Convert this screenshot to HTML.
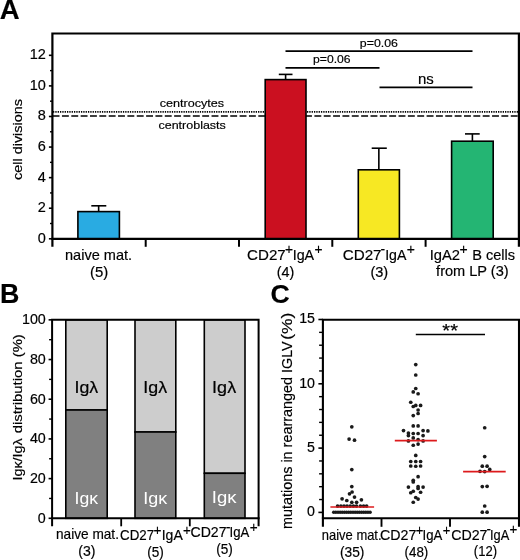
<!DOCTYPE html>
<html lang="en"><head><meta charset="utf-8"><title>Figure</title>
<style>html,body{margin:0;padding:0;background:#fff;}svg{display:block;will-change:transform;}text{font-family:'Liberation Sans', sans-serif;stroke:#000;stroke-width:0.18px;}text.w{stroke:none;}</style>
</head><body>
<svg width="520" height="560" viewBox="0 0 520 560">
<rect x="0" y="0" width="520" height="560" fill="#fff"/>
<text x="-0.3" y="18.5" font-size="27.5" font-weight="bold">A</text>
<g id="panelA">
<line x1="48.90" y1="238.80" x2="52.40" y2="238.80" stroke="#000" stroke-width="1.6" />
<text x="45.9" y="242.7" font-size="14.5" text-anchor="end">0</text>
<line x1="50.00" y1="223.51" x2="52.40" y2="223.51" stroke="#000" stroke-width="1.4" />
<line x1="48.90" y1="208.22" x2="52.40" y2="208.22" stroke="#000" stroke-width="1.6" />
<text x="45.9" y="212.12" font-size="14.5" text-anchor="end">2</text>
<line x1="50.00" y1="192.93" x2="52.40" y2="192.93" stroke="#000" stroke-width="1.4" />
<line x1="48.90" y1="177.64" x2="52.40" y2="177.64" stroke="#000" stroke-width="1.6" />
<text x="45.9" y="181.54" font-size="14.5" text-anchor="end">4</text>
<line x1="50.00" y1="162.35" x2="52.40" y2="162.35" stroke="#000" stroke-width="1.4" />
<line x1="48.90" y1="147.06" x2="52.40" y2="147.06" stroke="#000" stroke-width="1.6" />
<text x="45.9" y="150.96" font-size="14.5" text-anchor="end">6</text>
<line x1="50.00" y1="131.77" x2="52.40" y2="131.77" stroke="#000" stroke-width="1.4" />
<line x1="48.90" y1="116.48" x2="52.40" y2="116.48" stroke="#000" stroke-width="1.6" />
<text x="45.9" y="120.38" font-size="14.5" text-anchor="end">8</text>
<line x1="50.00" y1="101.19" x2="52.40" y2="101.19" stroke="#000" stroke-width="1.4" />
<line x1="48.90" y1="85.90" x2="52.40" y2="85.90" stroke="#000" stroke-width="1.6" />
<text x="45.9" y="89.8" font-size="14.5" text-anchor="end">10</text>
<line x1="50.00" y1="70.61" x2="52.40" y2="70.61" stroke="#000" stroke-width="1.4" />
<line x1="48.90" y1="55.32" x2="52.40" y2="55.32" stroke="#000" stroke-width="1.6" />
<text x="45.9" y="59.22" font-size="14.5" text-anchor="end">12</text>
<text x="22.4" y="180.01" font-size="13.5" textLength="81.03" lengthAdjust="spacingAndGlyphs" transform="rotate(-90 22.4 180.01)">cell divisions</text>
<line x1="53.00" y1="111.80" x2="518.90" y2="111.80" stroke="#000" stroke-width="1.7" stroke-dasharray="1.3 1.03"/>
<line x1="52.60" y1="116.00" x2="518.90" y2="116.00" stroke="#000" stroke-width="1.7" stroke-dasharray="6.9 2.45"/>
<text x="159.67" y="107.1" font-size="11.4" textLength="64.39" lengthAdjust="spacingAndGlyphs">centrocytes</text>
<text x="158.47" y="129.4" font-size="11.4" textLength="67.38" lengthAdjust="spacingAndGlyphs">centroblasts</text>
<line x1="98.65" y1="211.60" x2="98.65" y2="205.80" stroke="#000" stroke-width="1.6" />
<line x1="91.30" y1="205.80" x2="106.30" y2="205.80" stroke="#000" stroke-width="1.6" />
<rect x="77.90" y="211.60" width="41.50" height="27.20" fill="#29ABE2" stroke="#000" stroke-width="1.6"/>
<line x1="285.60" y1="79.60" x2="285.60" y2="74.40" stroke="#000" stroke-width="1.6" />
<line x1="278.80" y1="74.40" x2="292.50" y2="74.40" stroke="#000" stroke-width="1.6" />
<rect x="265.20" y="79.60" width="40.80" height="159.20" fill="#CB1020" stroke="#000" stroke-width="1.6"/>
<line x1="378.85" y1="169.80" x2="378.85" y2="148.20" stroke="#000" stroke-width="1.6" />
<line x1="371.70" y1="148.20" x2="386.80" y2="148.20" stroke="#000" stroke-width="1.6" />
<rect x="358.30" y="169.80" width="41.10" height="69.00" fill="#F7E823" stroke="#000" stroke-width="1.6"/>
<line x1="472.40" y1="141.20" x2="472.40" y2="133.90" stroke="#000" stroke-width="1.6" />
<line x1="465.00" y1="133.90" x2="479.70" y2="133.90" stroke="#000" stroke-width="1.6" />
<rect x="451.60" y="141.20" width="41.60" height="97.60" fill="#24B573" stroke="#000" stroke-width="1.6"/>
<path d="M52.4 246.8 V33.5 H518.9 V246.8" fill="none" stroke="#000" stroke-width="2.2"/>
<line x1="51.30" y1="238.80" x2="520.00" y2="238.80" stroke="#000" stroke-width="2.2" />
<line x1="145.70" y1="238.80" x2="145.70" y2="246.80" stroke="#000" stroke-width="2" />
<line x1="239.00" y1="238.80" x2="239.00" y2="246.80" stroke="#000" stroke-width="2" />
<line x1="332.30" y1="238.80" x2="332.30" y2="246.80" stroke="#000" stroke-width="2" />
<line x1="425.60" y1="238.80" x2="425.60" y2="246.80" stroke="#000" stroke-width="2" />
<line x1="285.50" y1="51.00" x2="472.50" y2="51.00" stroke="#000" stroke-width="1.75" />
<line x1="285.50" y1="67.90" x2="379.50" y2="67.90" stroke="#000" stroke-width="1.75" />
<line x1="379.50" y1="87.40" x2="472.50" y2="87.40" stroke="#000" stroke-width="1.75" />
<text x="359.8" y="46.6" font-size="11.8" textLength="38.14" lengthAdjust="spacingAndGlyphs">p=0.06</text>
<text x="313.12" y="63.3" font-size="11.8" textLength="37.52" lengthAdjust="spacingAndGlyphs">p=0.06</text>
<text x="417.9" y="83.5" font-size="14.2" textLength="15.84" lengthAdjust="spacingAndGlyphs">ns</text>
<text x="65.03" y="260.1" font-size="14.4" textLength="67.09" lengthAdjust="spacingAndGlyphs">naive mat.</text>
<text x="90.07" y="277.0" font-size="14.4" textLength="18.25" lengthAdjust="spacingAndGlyphs">(5)</text>
<text y="259.6" font-size="14.8"><tspan x="247.13" textLength="38.63" lengthAdjust="spacingAndGlyphs">CD27</tspan><tspan x="284.93" dy="-5.2" textLength="8.05" lengthAdjust="spacingAndGlyphs">+</tspan><tspan x="292.68" dy="5.2" textLength="21.45" lengthAdjust="spacingAndGlyphs">IgA</tspan><tspan x="314.43" dy="-5.2" textLength="8.05" lengthAdjust="spacingAndGlyphs">+</tspan></text>
<text x="276.81" y="277.4" font-size="14.4" textLength="17.58" lengthAdjust="spacingAndGlyphs">(4)</text>
<text y="259.6" font-size="14.8"><tspan x="342.73" textLength="38.84" lengthAdjust="spacingAndGlyphs">CD27</tspan><tspan x="380.58" dy="-5.2" textLength="4.64" lengthAdjust="spacingAndGlyphs">-</tspan><tspan x="385.19" dy="5.2" textLength="21.23" lengthAdjust="spacingAndGlyphs">IgA</tspan><tspan x="406.72" dy="-5.2" textLength="8.17" lengthAdjust="spacingAndGlyphs">+</tspan></text>
<text x="370.4" y="277.1" font-size="14.4" textLength="17.81" lengthAdjust="spacingAndGlyphs">(3)</text>
<text y="259.6" font-size="14.8"><tspan x="429.64" textLength="30.3" lengthAdjust="spacingAndGlyphs">IgA2</tspan><tspan x="459.42" dy="-5.2" textLength="8.17" lengthAdjust="spacingAndGlyphs">+</tspan> <tspan x="472.21" dy="5.2" textLength="42.82" lengthAdjust="spacingAndGlyphs">B cells</tspan></text>
<text x="436.09" y="276.4" font-size="14.4" textLength="72.61" lengthAdjust="spacingAndGlyphs">from LP (3)</text>
</g>
<text x="0.0" y="303.0" font-size="26.8" font-weight="bold">B</text>
<g id="panelB">
<rect x="65.80" y="319.85" width="41.40" height="90.15" fill="#CDCDCD" stroke="#000" stroke-width="1.6"/>
<rect x="65.80" y="410.00" width="41.40" height="108.30" fill="#808080" stroke="#000" stroke-width="1.6"/>
<rect x="135.00" y="319.85" width="40.80" height="112.15" fill="#CDCDCD" stroke="#000" stroke-width="1.6"/>
<rect x="135.00" y="432.00" width="40.80" height="86.30" fill="#808080" stroke="#000" stroke-width="1.6"/>
<rect x="204.30" y="319.85" width="40.70" height="153.45" fill="#CDCDCD" stroke="#000" stroke-width="1.6"/>
<rect x="204.30" y="473.30" width="40.70" height="45.00" fill="#808080" stroke="#000" stroke-width="1.6"/>
<path d="M52.1 526.3 V319.85 H258.6 V526.3" fill="none" stroke="#000" stroke-width="2"/>
<line x1="51.10" y1="518.30" x2="259.60" y2="518.30" stroke="#000" stroke-width="2" />
<line x1="121.20" y1="518.30" x2="121.20" y2="526.30" stroke="#000" stroke-width="1.8" />
<line x1="189.80" y1="518.30" x2="189.80" y2="526.30" stroke="#000" stroke-width="1.8" />
<line x1="48.60" y1="518.30" x2="52.10" y2="518.30" stroke="#000" stroke-width="1.6" />
<text x="45.8" y="522.6" font-size="14.3" text-anchor="end">0</text>
<line x1="49.10" y1="498.45" x2="52.10" y2="498.45" stroke="#000" stroke-width="1.4" />
<line x1="48.60" y1="478.61" x2="52.10" y2="478.61" stroke="#000" stroke-width="1.6" />
<text x="45.8" y="482.91" font-size="14.3" text-anchor="end">20</text>
<line x1="49.10" y1="458.76" x2="52.10" y2="458.76" stroke="#000" stroke-width="1.4" />
<line x1="48.60" y1="438.92" x2="52.10" y2="438.92" stroke="#000" stroke-width="1.6" />
<text x="45.8" y="443.22" font-size="14.3" text-anchor="end">40</text>
<line x1="49.10" y1="419.07" x2="52.10" y2="419.07" stroke="#000" stroke-width="1.4" />
<line x1="48.60" y1="399.23" x2="52.10" y2="399.23" stroke="#000" stroke-width="1.6" />
<text x="45.8" y="403.53" font-size="14.3" text-anchor="end">60</text>
<line x1="49.10" y1="379.38" x2="52.10" y2="379.38" stroke="#000" stroke-width="1.4" />
<line x1="48.60" y1="359.54" x2="52.10" y2="359.54" stroke="#000" stroke-width="1.6" />
<text x="45.8" y="363.84" font-size="14.3" text-anchor="end">80</text>
<line x1="49.10" y1="339.69" x2="52.10" y2="339.69" stroke="#000" stroke-width="1.4" />
<line x1="48.60" y1="319.85" x2="52.10" y2="319.85" stroke="#000" stroke-width="1.6" />
<text x="45.8" y="324.15" font-size="14.3" text-anchor="end">100</text>
<text x="22.0" y="480.42" font-size="13.3" textLength="42.04" lengthAdjust="spacingAndGlyphs" transform="rotate(-90 22.0 480.42)">Igκ/Igλ</text>
<text x="22.0" y="433.32" font-size="13.3" textLength="99.15" lengthAdjust="spacingAndGlyphs" transform="rotate(-90 22.0 433.32)">distribution (%)</text>
<text x="74.56" y="392.7" font-size="15.8" textLength="23.7" lengthAdjust="spacingAndGlyphs">Igλ</text>
<text x="143.35" y="392.7" font-size="15.8" textLength="23.8" lengthAdjust="spacingAndGlyphs">Igλ</text>
<text x="212.14" y="392.7" font-size="15.8" textLength="24.02" lengthAdjust="spacingAndGlyphs">Igλ</text>
<text x="74.57" y="504.0" font-size="15.8" textLength="23.5" lengthAdjust="spacingAndGlyphs" fill="#fff" class="w">Igκ</text>
<text x="143.34" y="504.0" font-size="15.8" textLength="23.93" lengthAdjust="spacingAndGlyphs" fill="#fff" class="w">Igκ</text>
<text x="211.89" y="502.7" font-size="15.8" textLength="24.68" lengthAdjust="spacingAndGlyphs" fill="#fff" class="w">Igκ</text>
<text x="55.99" y="539.4" font-size="14.4" textLength="62.95" lengthAdjust="spacingAndGlyphs">naive mat.</text>
<text x="78.33" y="556.4" font-size="14.4" textLength="17.14" lengthAdjust="spacingAndGlyphs">(3)</text>
<text y="540.0" font-size="14.6"><tspan x="120.12" textLength="34.05" lengthAdjust="spacingAndGlyphs">CD27</tspan><tspan x="153.54" dy="-5.3" textLength="7.93" lengthAdjust="spacingAndGlyphs">+</tspan><tspan x="161.71" dy="5.3" textLength="21.02" lengthAdjust="spacingAndGlyphs">IgA</tspan><tspan x="183.05" dy="-5.3" textLength="7.81" lengthAdjust="spacingAndGlyphs">+</tspan></text>
<text x="147.26" y="557.2" font-size="14.4" textLength="16.58" lengthAdjust="spacingAndGlyphs">(5)</text>
<text y="537.0" font-size="14.6"><tspan x="190.48" textLength="36.02" lengthAdjust="spacingAndGlyphs">CD27</tspan><tspan x="225.76" dy="-5.1" textLength="4.77" lengthAdjust="spacingAndGlyphs">-</tspan><tspan x="229.59" dy="5.1" textLength="19.74" lengthAdjust="spacingAndGlyphs">IgA</tspan><tspan x="249.74" dy="-5.1" textLength="7.93" lengthAdjust="spacingAndGlyphs">+</tspan></text>
<text x="216.16" y="554.4" font-size="14.4" textLength="16.58" lengthAdjust="spacingAndGlyphs">(5)</text>
</g>
<text x="270.5" y="303.0" font-size="26.6" font-weight="bold">C</text>
<g id="panelC">
<path d="M322.9 526.8 V319.7 H519.0 V526.8" fill="none" stroke="#000" stroke-width="2.1"/>
<line x1="321.90" y1="518.30" x2="520.00" y2="518.30" stroke="#000" stroke-width="2.1" />
<line x1="381.50" y1="518.30" x2="381.50" y2="526.80" stroke="#000" stroke-width="1.9" />
<line x1="450.00" y1="518.30" x2="450.00" y2="526.80" stroke="#000" stroke-width="1.9" />
<line x1="318.40" y1="512.40" x2="322.90" y2="512.40" stroke="#000" stroke-width="1.6" />
<text x="315.0" y="516.3" font-size="14.2" text-anchor="end">0</text>
<line x1="319.10" y1="499.54" x2="322.90" y2="499.54" stroke="#000" stroke-width="1.4" />
<line x1="319.10" y1="486.68" x2="322.90" y2="486.68" stroke="#000" stroke-width="1.4" />
<line x1="319.10" y1="473.82" x2="322.90" y2="473.82" stroke="#000" stroke-width="1.4" />
<line x1="319.10" y1="460.96" x2="322.90" y2="460.96" stroke="#000" stroke-width="1.4" />
<line x1="318.40" y1="448.10" x2="322.90" y2="448.10" stroke="#000" stroke-width="1.6" />
<text x="315.0" y="452.0" font-size="14.2" text-anchor="end">5</text>
<line x1="319.10" y1="435.24" x2="322.90" y2="435.24" stroke="#000" stroke-width="1.4" />
<line x1="319.10" y1="422.38" x2="322.90" y2="422.38" stroke="#000" stroke-width="1.4" />
<line x1="319.10" y1="409.52" x2="322.90" y2="409.52" stroke="#000" stroke-width="1.4" />
<line x1="319.10" y1="396.66" x2="322.90" y2="396.66" stroke="#000" stroke-width="1.4" />
<line x1="318.40" y1="383.80" x2="322.90" y2="383.80" stroke="#000" stroke-width="1.6" />
<text x="315.0" y="387.7" font-size="14.2" text-anchor="end">10</text>
<line x1="319.10" y1="370.94" x2="322.90" y2="370.94" stroke="#000" stroke-width="1.4" />
<line x1="319.10" y1="358.08" x2="322.90" y2="358.08" stroke="#000" stroke-width="1.4" />
<line x1="319.10" y1="345.22" x2="322.90" y2="345.22" stroke="#000" stroke-width="1.4" />
<line x1="319.10" y1="332.36" x2="322.90" y2="332.36" stroke="#000" stroke-width="1.4" />
<line x1="318.40" y1="319.50" x2="322.90" y2="319.50" stroke="#000" stroke-width="1.6" />
<text x="315.0" y="323.4" font-size="14.2" text-anchor="end">15</text>
<text x="292.5" y="528.95" font-size="15.4" textLength="187.61" lengthAdjust="spacingAndGlyphs" transform="rotate(-90 292.5 528.95)">mutations in rearranged IGLV</text>
<text x="292.5" y="339.78" font-size="15.4" textLength="27.06" lengthAdjust="spacingAndGlyphs" transform="rotate(-90 292.5 339.78)">(%)</text>
<line x1="415.80" y1="334.50" x2="485.00" y2="334.50" stroke="#000" stroke-width="1.6" />
<text x="442.38" y="336.7" font-size="18.7" textLength="15.64" lengthAdjust="spacingAndGlyphs">**</text>
<g fill="#1a1a1a">
<circle cx="351.80" cy="426.80" r="1.85"/>
<circle cx="349.10" cy="439.10" r="1.85"/>
<circle cx="354.50" cy="440.20" r="1.85"/>
<circle cx="351.80" cy="469.60" r="1.85"/>
<circle cx="351.80" cy="486.60" r="1.85"/>
<circle cx="352.10" cy="492.00" r="1.85"/>
<circle cx="349.50" cy="493.80" r="1.85"/>
<circle cx="354.50" cy="497.10" r="1.85"/>
<circle cx="342.10" cy="498.80" r="1.85"/>
<circle cx="346.80" cy="500.50" r="1.85"/>
<circle cx="361.40" cy="499.80" r="1.85"/>
<circle cx="351.80" cy="502.30" r="1.85"/>
<circle cx="356.60" cy="502.30" r="1.85"/>
<circle cx="337.60" cy="506.10" r="1.85"/>
<circle cx="340.90" cy="506.10" r="1.85"/>
<circle cx="344.00" cy="506.10" r="1.85"/>
<circle cx="347.00" cy="506.10" r="1.85"/>
<circle cx="350.20" cy="506.10" r="1.85"/>
<circle cx="353.40" cy="506.10" r="1.85"/>
<circle cx="356.50" cy="506.10" r="1.85"/>
<circle cx="360.40" cy="506.10" r="1.85"/>
<circle cx="363.60" cy="506.10" r="1.85"/>
<circle cx="366.60" cy="506.10" r="1.85"/>
<circle cx="333.70" cy="512.15" r="1.75"/>
<circle cx="335.84" cy="512.15" r="1.75"/>
<circle cx="337.98" cy="512.15" r="1.75"/>
<circle cx="340.12" cy="512.15" r="1.75"/>
<circle cx="342.26" cy="512.15" r="1.75"/>
<circle cx="344.41" cy="512.15" r="1.75"/>
<circle cx="346.55" cy="512.15" r="1.75"/>
<circle cx="348.69" cy="512.15" r="1.75"/>
<circle cx="350.83" cy="512.15" r="1.75"/>
<circle cx="352.97" cy="512.15" r="1.75"/>
<circle cx="355.11" cy="512.15" r="1.75"/>
<circle cx="357.25" cy="512.15" r="1.75"/>
<circle cx="359.39" cy="512.15" r="1.75"/>
<circle cx="361.54" cy="512.15" r="1.75"/>
<circle cx="363.68" cy="512.15" r="1.75"/>
<circle cx="365.82" cy="512.15" r="1.75"/>
<circle cx="367.96" cy="512.15" r="1.75"/>
<circle cx="370.10" cy="512.15" r="1.75"/>
<circle cx="415.75" cy="364.60" r="1.85"/>
<circle cx="415.75" cy="375.00" r="1.85"/>
<circle cx="415.75" cy="388.50" r="1.85"/>
<circle cx="413.25" cy="391.90" r="1.85"/>
<circle cx="418.10" cy="393.75" r="1.85"/>
<circle cx="410.75" cy="402.25" r="1.85"/>
<circle cx="415.75" cy="405.40" r="1.85"/>
<circle cx="420.60" cy="405.40" r="1.85"/>
<circle cx="413.25" cy="406.50" r="1.85"/>
<circle cx="418.10" cy="410.00" r="1.85"/>
<circle cx="418.10" cy="413.50" r="1.85"/>
<circle cx="413.25" cy="415.60" r="1.85"/>
<circle cx="413.25" cy="425.90" r="1.85"/>
<circle cx="418.10" cy="425.90" r="1.85"/>
<circle cx="403.50" cy="430.60" r="1.85"/>
<circle cx="423.10" cy="430.60" r="1.85"/>
<circle cx="427.90" cy="430.90" r="1.85"/>
<circle cx="408.40" cy="433.10" r="1.85"/>
<circle cx="408.40" cy="435.60" r="1.85"/>
<circle cx="413.25" cy="433.50" r="1.85"/>
<circle cx="418.10" cy="433.50" r="1.85"/>
<circle cx="423.10" cy="435.60" r="1.85"/>
<circle cx="413.25" cy="437.90" r="1.85"/>
<circle cx="418.10" cy="439.60" r="1.85"/>
<circle cx="408.40" cy="440.90" r="1.85"/>
<circle cx="423.10" cy="440.90" r="1.85"/>
<circle cx="418.10" cy="444.10" r="1.85"/>
<circle cx="413.25" cy="445.25" r="1.85"/>
<circle cx="415.75" cy="455.40" r="1.85"/>
<circle cx="410.75" cy="461.50" r="1.85"/>
<circle cx="415.75" cy="461.50" r="1.85"/>
<circle cx="420.60" cy="461.50" r="1.85"/>
<circle cx="410.75" cy="466.00" r="1.85"/>
<circle cx="415.75" cy="466.25" r="1.85"/>
<circle cx="420.60" cy="466.00" r="1.85"/>
<circle cx="418.10" cy="476.70" r="1.85"/>
<circle cx="413.25" cy="480.25" r="1.85"/>
<circle cx="413.25" cy="481.90" r="1.85"/>
<circle cx="408.40" cy="487.10" r="1.85"/>
<circle cx="418.10" cy="486.50" r="1.85"/>
<circle cx="418.10" cy="488.40" r="1.85"/>
<circle cx="423.10" cy="487.10" r="1.85"/>
<circle cx="413.25" cy="491.25" r="1.85"/>
<circle cx="410.75" cy="492.75" r="1.85"/>
<circle cx="420.60" cy="492.25" r="1.85"/>
<circle cx="415.75" cy="497.50" r="1.85"/>
<circle cx="418.10" cy="499.10" r="1.85"/>
<circle cx="413.25" cy="502.25" r="1.85"/>
<circle cx="484.70" cy="427.75" r="1.85"/>
<circle cx="484.70" cy="456.60" r="1.85"/>
<circle cx="482.30" cy="466.20" r="1.85"/>
<circle cx="487.10" cy="466.20" r="1.85"/>
<circle cx="489.75" cy="469.40" r="1.85"/>
<circle cx="480.00" cy="471.30" r="1.85"/>
<circle cx="484.70" cy="471.60" r="1.85"/>
<circle cx="482.30" cy="486.60" r="1.85"/>
<circle cx="487.10" cy="486.30" r="1.85"/>
<circle cx="484.70" cy="506.00" r="1.85"/>
<circle cx="482.30" cy="512.20" r="1.85"/>
<circle cx="487.10" cy="512.20" r="1.85"/>
</g>
<line x1="330.40" y1="507.00" x2="374.10" y2="507.00" stroke="#DD1A1C" stroke-width="1.6" />
<line x1="394.80" y1="440.60" x2="436.90" y2="440.60" stroke="#DD1A1C" stroke-width="1.6" />
<line x1="463.10" y1="471.60" x2="505.70" y2="471.60" stroke="#DD1A1C" stroke-width="1.6" />
<text x="321.84" y="539.8" font-size="14.6" textLength="59.74" lengthAdjust="spacingAndGlyphs">naive mat.</text>
<text x="339.95" y="557.1" font-size="14.4" textLength="24.4" lengthAdjust="spacingAndGlyphs">(35)</text>
<text y="539.8" font-size="14.6"><tspan x="380.08" textLength="36.34" lengthAdjust="spacingAndGlyphs">CD27</tspan><tspan x="415.77" dy="-5.3" textLength="7.57" lengthAdjust="spacingAndGlyphs">+</tspan><tspan x="422.59" dy="5.3" textLength="19.74" lengthAdjust="spacingAndGlyphs">IgA</tspan><tspan x="442.67" dy="-5.3" textLength="7.57" lengthAdjust="spacingAndGlyphs">+</tspan></text>
<text x="404.57" y="557.1" font-size="14.4" textLength="23.76" lengthAdjust="spacingAndGlyphs">(48)</text>
<text y="539.6" font-size="14.6"><tspan x="451.18" textLength="36.34" lengthAdjust="spacingAndGlyphs">CD27</tspan><tspan x="486.6" dy="-5.3" textLength="4.5" lengthAdjust="spacingAndGlyphs">-</tspan><tspan x="490.02" dy="5.3" textLength="19.21" lengthAdjust="spacingAndGlyphs">IgA</tspan><tspan x="509.55" dy="-5.3" textLength="7.81" lengthAdjust="spacingAndGlyphs">+</tspan></text>
<text x="473.79" y="556.3" font-size="14.4" textLength="23.22" lengthAdjust="spacingAndGlyphs">(12)</text>
</g>
</svg></body></html>
